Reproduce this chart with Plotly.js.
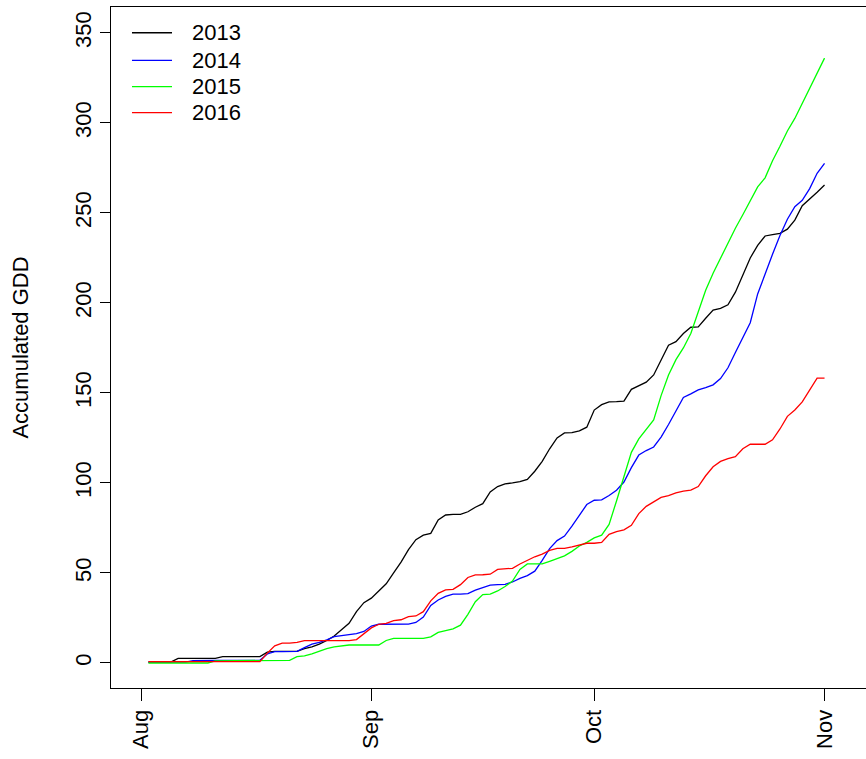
<!DOCTYPE html>
<html><head><meta charset="utf-8">
<script src="https://cdn.plot.ly/plotly-3.0.1.min.js"></script>
<style>html,body{margin:0;padding:0;overflow:hidden;background:#fff}</style>
</head><body>
<div id="chart" style="width:866px;height:759px"></div>
<script>
// Daily dates Aug 2 .. Nov 1
const startDate = '2016-08-02';
const nDays = 92;
const dates = [];
(function(){ const d0 = new Date(startDate + 'T00:00:00Z');
  for (let i = 0; i < nDays; i++) { const d = new Date(d0.getTime() + i*86400000); dates.push(d.toISOString().slice(0,10)); } })();

const seriesNames = ['2013','2014','2015','2016'];
const seriesColors = ['#000000','#0000FF','#00FF00','#FF0000'];

const gdd2013 = [0.5,0.5,0.5,0.5, 2.6,2.6,2.6,2.6,2.6,2.6, 3.5,3.5,3.5,3.5,3.5,3.5, 6,6.5,6.5,6.5,6.5,
 8,9,10.5,12.5,15,18.5,22,28.5,33.5,36,
 40,44,50,56,63,68.5,71,72,79.5,82.2,
 82.5,82.5,84,86.5,88.5,95,98,99.5,100,100.7,
 102,106.5,112,119,125,127.8,128,129,131,140.5,
 143.5,145,145.2,145.5,152,154,156,160,168,176.5,
 178.5,183,186.5,186.7,191.5,196,197,199,206,216,
 225,232,237.2,238,238.7,241,246,254,257.5,261.5,
 265.5];
const gdd2014 = [0.5,0.5,0.5,0.5,0.5,0.5, 1.3,1.5,1.5,1.5,1.5,1.5,1.5,1.5,1.5,1.5,
 5,6.3,6.3,6.3,6.5,
 8.5,10.5,11.5,12.8,14.6,15.2,16,16.3,17.5,20.5,
 21.5,21.5,21.5,21.5,21.6,22.5,25.5,32,35,37,
 38.2,38.2,38.5,40.5,42,43.3,43.5,43.7,45,47,
 48.5,51,57,63.5,68,70.5,76,82,88,90.4,
 90.6,93,96,100.5,108.5,115.5,118,120,125.5,132.5,
 140,147.5,149.5,151.7,153,154.5,158,164,172.5,181,
 189,205,216.5,227,237.5,246.5,253.5,257,263.5,272,
 277.5];
const gdd2015 = [0,0,0,0,0,0,0,0,0, 1.2,1.2,1.2,1.2,1.2,1.2,1.2, 1.3,1.3,1.3, 1.5,3.5,
 4,5,6.5,8,9,9.5,10,10,10,10,
 10,12.5,13.7,13.7,13.7,13.7,13.7,14.5,17,18,
 19,21,27,34,38,38.2,40,42.5,45.5,52,
 55,55,55,56.5,58,59.5,62,65,67,69.5,
 71,77,90,104,117,124.5,130,135,148.5,160,
 168.5,175,183,195,207,216.5,225,233.5,241.5,249,
 257,264.5,269.5,279,287,295.5,302.5,311,319,328,
 336];
const gdd2016 = [0.7,0.7,0.7,0.7,0.7,0.7,0.7,0.7,0.7,0.7,0.7,0.7,0.7,0.7,0.7,0.7,
 5.5,9.5,11,11,11.5,
 12.4,12.4,12.4,12.4,12.4,12.4,12.4,13,16,19.5,
 21.5,22,23.5,24,25.7,26.1,28.5,34.5,38.7,40.6,
 40.9,43.5,47.5,48.9,49,49.3,52,52.3,52.6,55,
 57,59,60.5,62.5,63.7,63.7,64.5,65.5,66.5,66.5,
 67,71.5,73,74,76.5,83,87,89.5,92,93,
 94.5,95.5,96,98,104,109,112,113.5,114.6,119,
 121.5,121.5,121.5,124,130,137,140.5,145,152,158.2,
 158.2];
const allSeries = [gdd2013, gdd2014, gdd2015, gdd2016];

const monthTickVals = ['2016-08-01','2016-09-01','2016-10-01','2016-11-01'];
const monthTickText = ['Aug','Sep','Oct','Nov'];
const yTickVals = [0,50,100,150,200,250,300,350];

const FONT = 'Liberation Sans, Arial, sans-serif';
const FS = 22;

const traces = allSeries.map((v, i) => ({
  type: 'scatter', mode: 'lines', x: dates, y: v, name: seriesNames[i],
  line: {color: seriesColors[i], width: 1.3}, showlegend: false, hoverinfo: 'skip'
}));

// manual legend (R-style)
const legY = [0.9622, 0.9217, 0.8830, 0.8448];
const shapes = [], annotations = [];
seriesNames.forEach((n, i) => {
  shapes.push({type:'line', xref:'paper', yref:'paper', x0:0.0278, x1:0.0808, y0:legY[i], y1:legY[i],
    line:{color:seriesColors[i], width:1.3}});
  annotations.push({xref:'paper', yref:'paper', x:0.104, y:legY[i], xanchor:'left', yanchor:'middle',
    text:n, showarrow:false, font:{family:FONT, size:FS, color:'#000'}});
});

const layout = {
  width: 866, height: 759,
  margin: {l:111, r:0, t:7, b:71, pad:0},
  paper_bgcolor:'#fff', plot_bgcolor:'#fff',
  font: {family: FONT, size: FS, color:'#000'},
  xaxis: {
    type:'date', range:['2016-07-27 23:05','2016-11-06 13:55'],
    tickmode:'array', tickvals: monthTickVals, ticktext: monthTickText, tickangle:-90,
    ticks:'outside', ticklen:12, tickwidth:1, tickcolor:'#000',
    showline:true, linecolor:'#000', linewidth:1, mirror:true,
    showgrid:false, zeroline:false, tickfont:{family:FONT, size:FS, color:'#000'}
  },
  yaxis: {
    range:[-13.9, 364.4], tickmode:'array', tickvals:yTickVals, tickangle:-90,
    ticks:'outside', ticklen:10, tickwidth:1, tickcolor:'#000',
    showline:true, linecolor:'#000', linewidth:1, mirror:false,
    showgrid:false, zeroline:false, tickfont:{family:FONT, size:FS, color:'#000'},
    title:{text:'Accumulated GDD', font:{family:FONT, size:FS, color:'#000'}, standoff:36}
  },
  shapes: shapes, annotations: annotations, showlegend:false
};
Plotly.newPlot('chart', traces, layout, {staticPlot:true, displayModeBar:false});
</script>
</body></html>
